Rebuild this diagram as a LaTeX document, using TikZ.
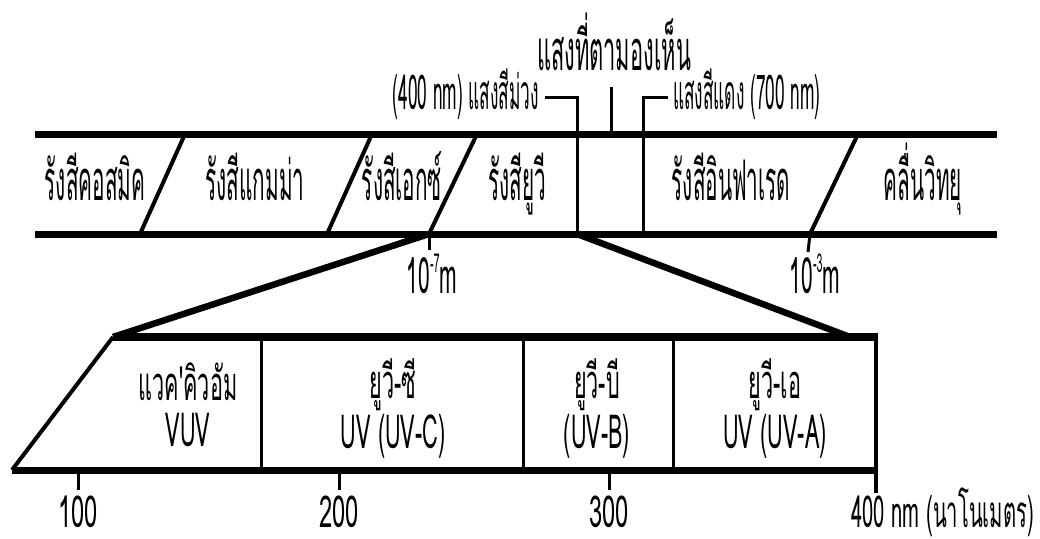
\documentclass[tikz,border=0pt]{standalone}
\usepackage{fontspec}
\newfontfamily\thai[Script=Thai]{Loma}
\tikzset{
  band/.style={line width=7pt},
  sep/.style={line width=4pt},
  thin/.style={line width=3pt},
  fan/.style={line width=6.5pt},
  big/.style={font=\thai\fontsize{56}{58}\selectfont, inner sep=0pt, xscale=0.37, anchor=base},
  ttl/.style={font=\thai\fontsize{56}{58}\selectfont, inner sep=0pt, xscale=0.39, anchor=base},
  sml/.style={font=\thai\fontsize{48}{50}\selectfont, inner sep=0pt, xscale=0.36},
  pw/.style={font=\thai\fontsize{50}{52}\selectfont, inner sep=0pt, xscale=0.42, anchor=base},
  box/.style={font=\thai\fontsize{47}{49}\selectfont, inner sep=0pt, xscale=0.46, anchor=base, text depth=0pt},
  tck/.style={font=\thai\fontsize{44}{46}\selectfont, inner sep=0pt, xscale=0.54, anchor=base, text depth=0pt},
}
\begin{document}
\begin{tikzpicture}[x=1pt,y=-1pt]
\useasboundingbox[fill=white] (0,0) rectangle (1040,538);
% top band
\coordinate (tl) at (35,134); \coordinate (tr) at (997,134);
\coordinate (bl) at (35,234); \coordinate (br) at (997,234);
\draw[band] (tl) -- (tr);
\draw[band] (bl) -- (br);
\coordinate (s1t) at (185,134); \coordinate (s1b) at (140,234);
\coordinate (s2t) at (372,134); \coordinate (s2b) at (327,234);
\coordinate (s3t) at (477,134); \coordinate (s3b) at (429,234);
\coordinate (s6t) at (858,134); \coordinate (s6b) at (810,234);
\draw[sep] (s1t) -- (s1b);
\draw[sep] (s2t) -- (s2b);
\draw[sep] (s3t) -- (s3b);
\draw[sep] (s6t) -- (s6b);
% visible light markers
\coordinate (vh) at (545,97); \coordinate (vc) at (577,97); \coordinate (vb) at (577,234);
\coordinate (rh) at (668,97); \coordinate (rc) at (643,97); \coordinate (rb) at (643,234);
\coordinate (mt) at (611,87); \coordinate (mb) at (611,134);
\draw[thin,line join=miter] (vh) -- (vc) -- (vb);
\draw[thin,line join=miter] (rh) -- (rc) -- (rb);
\draw[thin] (mt) -- (mb);
% ticks
\coordinate (t7) at (429,250); \coordinate (t3) at (808,252);
\draw[thin] (s3b) -- (t7);
\draw[thin] (s6b) -- (t3);
% band labels
\node[big] (cos) at (95,200) {รังสีคอสมิค};
\node[big] (gam) at (255,200) {รังสีแกมม่า};
\node[big] (xr) at (402,200) {รังสีเอกซ์};
\node[big] (uv) at (517,200) {รังสียูวี};
\node[big] (ir) at (731,200) {รังสีอินฟาเรด};
\node[big] (rad) at (923,200) {คลื่นวิทยุ};
\node[ttl] (vis) at (614,70) {แสงที่ตามองเห็น};
\node[sml,anchor=base east] (viol) at (539,109) {(400 nm) แสงสีม่วง};
\node[sml,anchor=base west] (red) at (673,109) {แสงสีแดง (700 nm)};
\node[pw] (l7) at (432,293) {10\raisebox{0.42em}{\fontsize{26}{26}\selectfont -7}m};
\node[pw] (l3) at (815,293) {10\raisebox{0.42em}{\fontsize{26}{26}\selectfont -3}m};
% lower box
\coordinate (btl) at (113,337); \coordinate (btr) at (876,337);
\coordinate (bbl) at (12,470); \coordinate (bbr) at (876,470);
\coordinate (bend) at (876,493); \coordinate (btop) at (876,333);
\coordinate (fr) at (850,337);
\draw[fan] (s3b) -- (btl);
\draw[fan] (vb) -- (fr);
\draw[line width=8pt] (btl) -- (btr);
\draw[band] (bbl) -- (bbr);
\draw[sep] (btl) -- (bbl);
\draw[sep] (btop) -- (bend);
\foreach \x/\n in {261/d1,523/d2,673/d3}{
  \draw[thin] (\x,337) -- (\x,470);
}
\foreach \x/\n in {78/100,339/200,609/300}{
  \draw[thin] (\x,470) -- (\x,490);
  \node[tck] (n\n) at (\x,527) {\n};
}
\node[tck,xscale=0.85,anchor=base west] (nm) at (851,527) {400 nm (นาโนเมตร)};
\node[box] (vuv1) at (188,400) {แวค'คิวอัม};
\node[box] (vuv2) at (188,446) {VUV};
\node[box] (uvc1) at (393,398) {ยูวี-ซี};
\node[box] (uvc2) at (393,448) {UV (UV-C)};
\node[box] (uvb1) at (597,398) {ยูวี-บี};
\node[box] (uvb2) at (597,448) {(UV-B)};
\node[box] (uva1) at (775,398) {ยูวี-เอ};
\node[box] (uva2) at (775,448) {UV (UV-A)};
\end{tikzpicture}
\end{document}
